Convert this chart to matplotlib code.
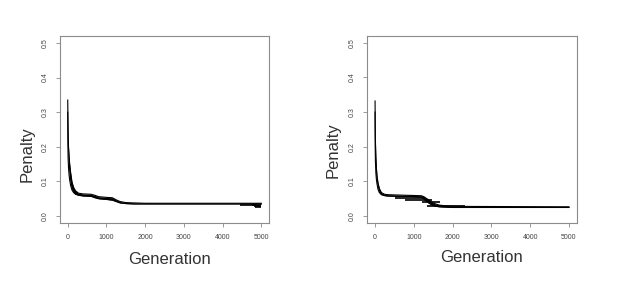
import matplotlib.pyplot as plt

plt.rcParams["font.family"] = ["Liberation Sans", "DejaVu Sans"]

# left run: penalty band (upper / lower edge of the plotted points)
gen_left = [0, 3, 10, 20, 35, 50, 75, 110, 150, 200, 280, 400, 600, 700, 800,
            1000, 1150, 1250, 1350, 1500, 1700, 2000, 5000]
pen_left_hi = [0.335, 0.29, 0.24, 0.20, 0.172, 0.150, 0.125, 0.098, 0.083, 0.073,
               0.066, 0.064, 0.063, 0.060, 0.056, 0.054, 0.053, 0.047, 0.042,
               0.039, 0.038, 0.037, 0.037]
pen_left_lo = [0.30, 0.21, 0.165, 0.140, 0.118, 0.104, 0.088, 0.075, 0.068, 0.063,
               0.060, 0.058, 0.057, 0.053, 0.050, 0.048, 0.046, 0.042, 0.038,
               0.036, 0.035, 0.035, 0.035]
# stray horizontal runs near the end
seg_left_start = [4440, 4770, 4800, 4850]
seg_left_end = [4870, 5000, 5000, 5000]
seg_left_val = [0.033, 0.031, 0.028, 0.025]

# right run
gen_right = [0, 3, 8, 20, 34, 50, 77, 110, 163, 250, 336, 600, 900, 1196, 1260,
             1370, 1450, 1542, 1650, 1800, 2000, 2400, 5000]
pen_right_hi = [0.332, 0.27, 0.22, 0.17, 0.138, 0.115, 0.094, 0.079, 0.067, 0.062,
                0.061, 0.060, 0.059, 0.058, 0.055, 0.047, 0.040, 0.035, 0.031,
                0.029, 0.028, 0.027, 0.026]
pen_right_lo = [0.30, 0.20, 0.16, 0.125, 0.105, 0.092, 0.076, 0.067, 0.061, 0.058,
                0.057, 0.056, 0.056, 0.054, 0.048, 0.038, 0.032, 0.028, 0.026,
                0.025, 0.024, 0.024, 0.024]
seg_right_start = [516, 773, 1204, 1332]
seg_right_end = [1289, 1460, 1675, 2320]
seg_right_val = [0.052, 0.045, 0.039, 0.029]

xticks = [0, 1000, 2000, 3000, 4000, 5000]
yticks = [0.0, 0.1, 0.2, 0.3, 0.4, 0.5]

fig = plt.figure(figsize=(6.23, 2.81), dpi=100)
ax1 = fig.add_axes([0.0963, 0.2064, 0.3355, 0.6655])
ax2 = fig.add_axes([0.5896, 0.2075, 0.3361, 0.6644])

panels = [
    (ax1, gen_left, pen_left_hi, pen_left_lo, seg_left_start, seg_left_end, seg_left_val,
     (-0.159, 0.366), (0.526, -0.193)),
    (ax2, gen_right, pen_right_hi, pen_right_lo, seg_right_start, seg_right_end, seg_right_val,
     (-0.162, 0.389), (0.543, -0.189)),
]

for ax, g, hi, lo, s0, s1, sv, ylab_pos, xlab_pos in panels:
    ax.fill_between(g, lo, hi, color="black", lw=0)
    ax.plot(g, hi, color="black", lw=0.8)
    ax.plot(g, lo, color="black", lw=0.8)
    ax.hlines(sv, s0, s1, color="black", lw=1.2)
    ax.set_xlim(-200, 5200)
    ax.set_ylim(-0.02, 0.52)
    ax.set_xticks(xticks)
    ax.set_xticklabels([str(t) for t in xticks])
    ax.set_yticks(yticks)
    ax.set_yticklabels(["%.1f" % t for t in yticks], rotation=90, va="center")
    ax.tick_params(direction="out", length=3, width=0.6, colors="#888888",
                   labelsize=5, labelcolor="#444444", pad=5)
    for sp in ax.spines.values():
        sp.set_color("#8c8c8c")
        sp.set_linewidth(0.8)
    ax.set_ylabel("Penalty", fontsize=12, color="#333333")
    ax.yaxis.set_label_coords(*ylab_pos)
    ax.set_xlabel("Generation", fontsize=12, color="#333333")
    ax.xaxis.set_label_coords(*xlab_pos)
    ax.xaxis.label.set_va("center")
    ax.yaxis.label.set_va("center")

fig.savefig("out.png", dpi=100)
